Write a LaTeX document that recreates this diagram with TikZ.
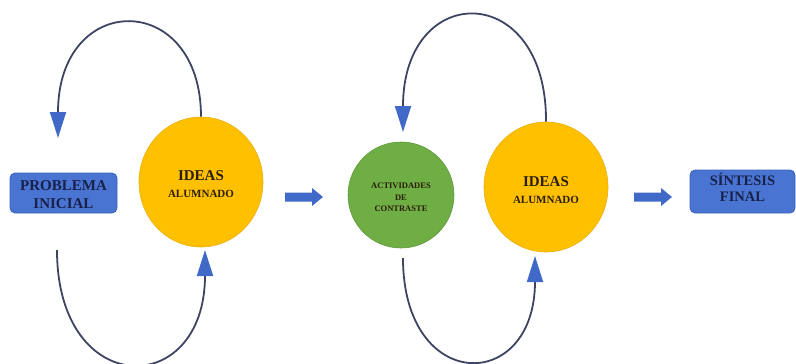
\documentclass[tikz,border=0pt]{standalone}
\usepackage{fontspec}
\setmainfont{Liberation Serif}
\usetikzlibrary{shapes.geometric,arrows.meta}
\definecolor{boxblue}{HTML}{4A74D2}
\definecolor{boxedge}{HTML}{3B62B8}
\definecolor{ideayellow}{HTML}{FFC000}
\definecolor{ideaedge}{HTML}{E8AE10}
\definecolor{actgreen}{HTML}{6FAD45}
\definecolor{actedge}{HTML}{5E9A3A}
\definecolor{loopline}{HTML}{3E4462}
\definecolor{headblue}{HTML}{4169C8}
\definecolor{navytext}{HTML}{17214A}
\definecolor{darktext}{HTML}{2A1E08}
\begin{document}
\begin{tikzpicture}[x=1pt,y=-1pt,
  stagebox/.style={draw=boxedge, line width=0.8pt, fill=boxblue, rounded corners=5pt, inner sep=0pt},
  boxtext/.style={align=center, text=navytext, inner sep=0pt},
  idea/.style={ellipse, fill=ideayellow, draw=ideaedge, line width=0.6pt, inner sep=0pt, minimum width=124pt, minimum height=130pt},
  ideatext/.style={align=center, text=darktext, inner sep=0pt},
  activity/.style={circle, fill=actgreen, draw=actedge, line width=0.6pt, inner sep=0pt, minimum size=106pt},
  loopline/.style={draw=loopline, line width=1.8pt, -{Triangle[length=26pt,width=16pt,color=headblue,fill=headblue]}},
  blockarr/.pic={\fill[headblue] (0,-4.5) -- (27,-4.5) -- (27,-9) -- (38,0) -- (27,9) -- (27,4.5) -- (0,4.5) -- cycle;}
]
\useasboundingbox (0,0) rectangle (796,364);

% boxes
\node[stagebox, minimum width=107pt, minimum height=40pt] (p) at (63.5,193) {};
\node[boxtext, font=\bfseries\fontsize{15}{18}\selectfont] (pt) at (63.5,194.5) {PROBLEMA\\INICIAL};
\node[stagebox, minimum width=105pt, minimum height=43pt] (s) at (742.5,191.5) {};
\node[boxtext, font=\bfseries\fontsize{14.5}{16}\selectfont] (st) at (742.5,187) {SÍNTESIS\\FINAL};

% circles
\node[idea] (c1) at (201,182) {};
\node[ideatext, font=\bfseries\fontsize{15}{17}\selectfont] (c1t) at (201,184.5) {IDEAS\\{\fontsize{11}{17}\selectfont ALUMNADO}};
\node[activity] (g) at (401,195) {};
\node[ideatext, font=\bfseries\fontsize{8.5}{11.5}\selectfont] (gt) at (401,197.5) {ACTIVIDADES\\DE\\CONTRASTE};
\node[idea] (c2) at (546,187) {};
\node[ideatext, font=\bfseries\fontsize{15}{17}\selectfont] (c2t) at (546,190.5) {IDEAS\\{\fontsize{11}{17}\selectfont ALUMNADO}};

% block arrows
\coordinate (a1) at (285,197);
\coordinate (a2) at (634,197);
\pic at (a1) {blockarr};
\pic at (a2) {blockarr};

% loops
\coordinate (tip1) at (58,138);
\coordinate (b1s) at (57,250);
\coordinate (tip2) at (205,250);
\coordinate (tip3) at (403,132);
\coordinate (b2s) at (403,258);
\coordinate (tip4) at (535,256);

\draw[loopline] (c1.north) .. controls (201,-10) and (58,-10) .. (tip1);
\draw[loopline] (b1s) .. controls (57,400) and (205,400) .. (tip2);
\draw[loopline] (c2.north) .. controls (547,-20) and (403,-20) .. (tip3);
\draw[loopline] (b2s) .. controls (403,394) and (535,394) .. (tip4);
\end{tikzpicture}
\end{document}
